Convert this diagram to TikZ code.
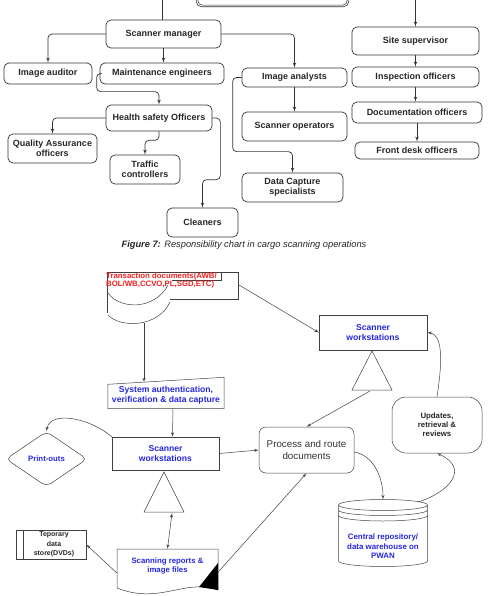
\documentclass[tikz,border=0pt]{standalone}
\usepackage{fontspec}
\setmainfont{Liberation Sans}
\usepackage{tikz}
\usetikzlibrary{arrows}
\usetikzlibrary{positioning}
\usetikzlibrary{calc}
\usetikzlibrary{shapes.geometric}
\definecolor{docblue}{RGB}{38,38,222}
\definecolor{docred}{RGB}{240,30,30}
\tikzstyle{role}=[draw=black!80,line width=0.7pt,rounded corners=5pt,font=\fontsize{9}{10.5}\selectfont\bfseries,align=center,inner sep=1pt,text=black!85]
\tikzstyle{flowbox}=[draw=black!75,line width=0.5pt,align=center,inner sep=1pt,font=\fontsize{8.6}{10}\selectfont\bfseries,text=docblue]
\tikzstyle{flowtext}=[align=center,inner sep=1pt,font=\fontsize{8.6}{10}\selectfont\bfseries,text=docblue]

\begin{document}
\begin{tikzpicture}
		[x=1pt,y=-1pt, tie/.style = {draw=black!80,line width=0.7pt,rounded corners=4pt,->,> = latex'}, flowline/.style = {draw=black!75,line width=0.5pt,->,> = latex'}]
		\useasboundingbox (0,0) rectangle (493,596);
		
		% responsibility chart
		\node[role,double,double distance=1pt,minimum width=151pt,minimum height=34pt] (head) at (272.5,-11) {};
		\coordinate (topL) at (162,0);
		\coordinate (topR) at (415.5,0);
		\node[role,minimum width=115pt,minimum height=28pt] (sm) at (163.5,34) {Scanner manager};
		\node[role,minimum width=88pt,minimum height=21pt] (ia) at (48,73.5) {Image auditor};
		\node[role,minimum width=124pt,minimum height=21pt] (me) at (162,73.5) {Maintenance engineers};
		\node[role,minimum width=105pt,minimum height=19pt] (an) at (294.5,77.5) {Image analysts};
		\node[role,minimum width=105pt,minimum height=29pt] (so) at (294.5,126.5) {Scanner operators};
		\node[role,minimum width=101pt,minimum height=29pt] (dc) at (292.5,187.5) {Data Capture\\specialists};
		\node[role,minimum width=127pt,minimum height=28pt] (ss) at (415.5,41) {Site supervisor};
		\node[role,minimum width=127pt,minimum height=20pt] (io) at (415.5,77) {Inspection officers};
		\node[role,minimum width=130pt,minimum height=21pt] (docs) at (417,112.5) {Documentation officers};
		\node[role,minimum width=124pt,minimum height=17pt] (fd) at (417,150.5) {Front desk officers};
		\node[role,minimum width=106pt,minimum height=26pt] (hs) at (159,118) {Health safety Officers};
		\node[role,minimum width=89pt,minimum height=29pt] (qa) at (52.5,148.5) {Quality Assurance\\officers};
		\node[role,minimum width=70pt,minimum height=29pt] (tc) at (145,169.5) {Traffic\\controllers};
		\node[role,minimum width=71pt,minimum height=29pt] (cl) at (202.5,222.5) {Cleaners};
		
		\draw[tie,-] (topL) -- (topL |- sm.north);
		\draw[tie] (topR) -- (ss.north);
		\draw[tie] (sm.west) -| (ia.north);
		\draw[tie] (sm.south) -- (sm.south |- me.north);
		\draw[tie] (sm.east) -| (an.north);
		\draw[tie] (me.west) -- ++(-3,0) |- ($(hs.north)+(0,-13)$) -- (hs.north);
		\draw[tie] (hs.west) -| (qa.north);
		\draw[tie] (hs.south) -- ++(0,9) -| (tc.north);
		\draw[tie] (hs.east) -- ++(8,0) |- ($(cl.north)+(0,-28)$) -- (cl.north);
		\draw[tie] (an.south) -- (so.north);
		\draw[tie] (an.west) -- ++(-9,0) |- ($(dc.north)+(0,-21)$) -- (dc.north);
		\draw[tie] (ss.south) -- (io.north);
		\draw[tie] (io.south) -- (io.south |- docs.north);
		\draw[tie] (docs.south) -- (docs.south |- fd.north);
		
		\node[font=\fontsize{9.3}{11}\selectfont\itshape,text=black!85] (cap) at (244,245) {\textbf{Figure 7:} Responsibility chart in cargo scanning operations};
		
		% document flow
		\draw[black!75,line width=0.5pt] (107,272) -- (238,272) -- (238,299) -- (170,299);
		\draw[black!75,line width=0.5pt] (221,272) -- (221,280) -- (172,280);
		\draw[black!75,line width=0.5pt] (107,272) -- (107,313);
		\draw[black!75,line width=0.5pt] (108,293) .. controls (120,310) and (155,310) .. (168,285);
		\draw[black!75,line width=0.5pt] (108,315) .. controls (120,328) and (158,328) .. (170,302);
		\node[anchor=north west,inner sep=0pt,align=left,font=\fontsize{7.8}{8.4}\selectfont\bfseries,text=docred] (td) at (106,272.5) {Transaction documents(AWB/\\BOL/WB,CCVO,PL,SGD,ETC)};
		\coordinate (tdr) at (239,285);
		\coordinate (tdbot) at (144,323);
		
		\node[flowbox,minimum width=108pt,minimum height=35pt] (tw) at (373,332.5) {Scanner\\workstations};
		\draw[black!75,line width=0.5pt] (372,351) -- (352,390) -- (392,390) -- cycle;
		\coordinate (t1b) at (370,391);
		
		\node[flowtext,minimum width=116pt,minimum height=26pt] (sa) at (166,395.5) {System authentication,\\verification \& data capture};
		\draw[black!75,line width=0.5pt] (sa.south west) -- ([yshift=-2pt]sa.north west) -- ([yshift=5pt]sa.north east) -- (sa.south east) -- cycle;
		
		\node[flowbox,minimum width=107pt,minimum height=33pt] (sw) at (165.5,453.5) {Scanner\\workstations};
		\draw[black!75,line width=0.5pt] (164,472) -- (144,512) -- (184,512) -- cycle;
		\coordinate (t2b) at (172,513);
		
		\node[flowbox,diamond,rounded corners=5pt,aspect=1.47,inner sep=0pt,minimum width=81pt,minimum height=55pt,font=\fontsize{7.8}{9}\selectfont\bfseries] (po) at (46.5,459) {Print-outs};
		
		\node[draw=black!75,line width=0.5pt,rounded corners=7pt,minimum width=95pt,minimum height=46pt,align=center,font=\fontsize{9.8}{12}\selectfont,text=black!80] (pr) at (306.5,450) {Process and route\\documents};
		
		\node[draw=black!75,line width=0.5pt,rounded corners=14pt,minimum width=90pt,minimum height=56pt,align=center,font=\fontsize{7.8}{9.2}\selectfont\bfseries,text=black!85] (up) at (437,425) {Updates,\\retrieval \&\\reviews};
		
		\draw[black!75,line width=0.5pt] (383,505) ellipse [x radius=44.5pt, y radius=5.5pt];
		\draw[black!75,line width=0.5pt] (338.5,510) arc [start angle=180, end angle=360, x radius=44.5pt, y radius=5.5pt];
		\draw[black!75,line width=0.5pt] (338.5,515.5) arc [start angle=180, end angle=360, x radius=44.5pt, y radius=5.5pt];
		\draw[black!75,line width=0.5pt] (338.5,505) -- (338.5,561) arc [start angle=180, end angle=360, x radius=44.5pt, y radius=5.5pt] -- (427.5,505);
		\node[flowtext,anchor=north,inner sep=0pt,font=\fontsize{7.9}{9.4}\selectfont\bfseries] (cr) at (383,499.5) {\rule{0pt}{40pt}Central repository/\\data warehouse on\\PWAN};
		
		\node[flowtext,minimum width=101pt,minimum height=34pt,font=\fontsize{7.8}{9}\selectfont\bfseries] (sr) at (167.5,566) {Scanning reports \&\\image files};
		\draw[black!75,line width=0.5pt] (117,549) -- (218,549) -- (218,590) .. controls (185,578) and (160,605) .. (117,588) -- cycle;
		\fill[black] (199,587) -- (218,563) -- (218,590) -- cycle;
		
		\node[draw=black!75,line width=0.5pt,minimum width=70pt,minimum height=29pt,inner sep=0pt,align=center,font=\fontsize{7}{9.3}\selectfont\bfseries,text=black!85] (ds) at (51,544.5) {\hspace{6pt}Teporary\\\hspace{6pt}data\\\hspace{6pt}store(DVDs)};
		\draw[black!75,line width=0.5pt] ([xshift=7pt]ds.north west) -- ([xshift=7pt]ds.south west);
		
		\draw[flowline] (tdr) -- (tw.west);
		\draw[flowline] (tdbot) -- (tdbot |- sa.north);
		\draw[flowline] ([xshift=7pt]sa.south) -- ([xshift=7pt]sw.north);
		\draw[flowline] (sw.north west) .. controls (90,418) and (50,410) .. (po.north);
		\draw[flowline] (sw.east) -- (pr.west);
		\draw[flowline] (t1b) -- (pr.north);
		\draw[flowline] ([yshift=-2pt]pr.east) .. controls (372,455) and (383,475) .. (cr.north);
		\draw[flowline] (418,502) .. controls (450,492) and (470,468) .. (up.south);
		\draw[flowline] (up.north) .. controls (441,370) and (445,335) .. (tw.east);
		\draw[flowline,<->] (t2b) -- (sr.north);
		\draw[flowline] ([yshift=-7pt]sr.west) -- (ds.east);
		\draw[flowline] ([yshift=-6pt]sr.east) -- (pr.south);
		
		\end{tikzpicture}
\end{document}
